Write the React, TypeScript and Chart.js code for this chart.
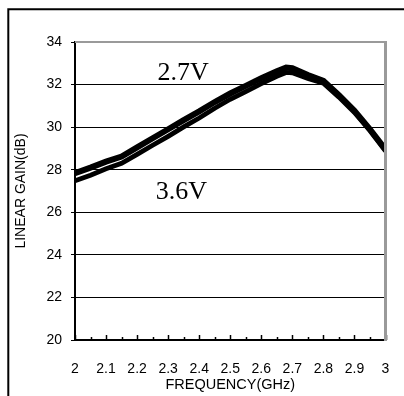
import React, { useEffect, useRef } from "react";
import { Chart, registerables } from "chart.js";

Chart.register(...registerables);

// ---- data ----
const frequencies = [2.0, 2.05, 2.1, 2.15, 2.2, 2.25, 2.3, 2.35, 2.4, 2.45, 2.5, 2.55, 2.6, 2.65, 2.68, 2.7, 2.75, 2.8, 2.85, 2.9, 2.95, 3.0];
const gain27V = [27.84, 28.1, 28.38, 28.62, 29.05, 29.48, 29.9, 30.33, 30.74, 31.18, 31.58, 31.94, 32.3, 32.62, 32.8, 32.77, 32.45, 32.17, 31.5, 30.77, 29.9, 28.95];
const gain36V = [27.48, 27.74, 28.04, 28.3, 28.72, 29.15, 29.57, 30.01, 30.43, 30.89, 31.31, 31.67, 32.04, 32.39, 32.57, 32.55, 32.29, 32.06, 31.41, 30.69, 29.83, 28.88];
const seriesNames = ["2.7V", "3.6V"];
const xMin = 2;
const xMax = 3;
const xStep = 0.1;
const xMinorStep = 0.05;
const yMin = 20;
const yMax = 34;
const yStep = 2;
const xTitle = "FREQUENCY(GHz)";
const yTitle = "LINEAR GAIN(dB)";

const SANS = "'Liberation Sans', Arial, sans-serif";
const SERIF = "'Liberation Serif', 'Times New Roman', serif";

const decorPlugin = {
  id: "decor",
  afterDatasetsDraw(chart: any) {
    const { ctx, chartArea, scales } = chart;
    const xs = scales.x;
    const ys = scales.y;
    ctx.save();
    // minor / major x tick marks pointing up from the axis
    ctx.strokeStyle = "#000";
    ctx.lineWidth = 1.5;
    const n = Math.round((xMax - xMin) / xMinorStep);
    for (let i = 0; i <= n; i++) {
      const v = xMin + i * xMinorStep;
      const px = Math.round(xs.getPixelForValue(v)) + 0.5;
      const len = i % 2 === 0 ? 5 : 3;
      ctx.beginPath();
      ctx.moveTo(px, chartArea.bottom);
      ctx.lineTo(px, chartArea.bottom - len);
      ctx.stroke();
    }
    // grey top and right frame
    ctx.strokeStyle = "#9a9a9a";
    ctx.lineWidth = 2;
    ctx.beginPath();
    ctx.moveTo(chartArea.left, ys.getPixelForValue(yMax));
    ctx.lineTo(xs.getPixelForValue(xMax), ys.getPixelForValue(yMax));
    ctx.stroke();
    ctx.lineWidth = 3;
    ctx.beginPath();
    ctx.moveTo(xs.getPixelForValue(xMax), ys.getPixelForValue(yMax) - 1);
    ctx.lineTo(xs.getPixelForValue(xMax), ys.getPixelForValue(yMin) + 1);
    ctx.stroke();
    // series labels
    ctx.fillStyle = "#000";
    ctx.font = "26px " + SERIF;
    ctx.textAlign = "center";
    ctx.textBaseline = "middle";
    ctx.fillText(seriesNames[0], xs.getPixelForValue(2.348), ys.getPixelForValue(32.54));
    ctx.fillText(seriesNames[1], xs.getPixelForValue(2.343), ys.getPixelForValue(26.94));
    // outer frame (left + top)
    ctx.strokeStyle = "#000";
    ctx.lineWidth = 2;
    ctx.beginPath();
    ctx.moveTo(8.3, 400);
    ctx.lineTo(8.3, 9.3);
    ctx.lineTo(410, 9.3);
    ctx.stroke();
    ctx.restore();
  },
};

export default function App() {
  const ref = useRef<HTMLCanvasElement | null>(null);
  useEffect(() => {
    if (!ref.current) return;
    const chart = new Chart(ref.current, {
      type: "line",
      data: {
        datasets: [
          {
            label: seriesNames[0],
            data: frequencies.map((f, i) => ({ x: f, y: gain27V[i] })),
            borderColor: "#000",
            borderWidth: 6,
            pointRadius: 0,
            tension: 0,
            fill: false,
          },
          {
            label: seriesNames[1],
            data: frequencies.map((f, i) => ({ x: f, y: gain36V[i] })),
            borderColor: "#000",
            borderWidth: 4.8,
            pointRadius: 0,
            tension: 0,
            fill: false,
          },
        ],
      },
      options: {
        animation: false,
        responsive: false,
        maintainAspectRatio: false,
        layout: { padding: { top: 42, right: 18.5, left: 0, bottom: 0 } },
        plugins: { legend: { display: false }, tooltip: { enabled: false } },
        scales: {
          x: {
            type: "linear",
            min: xMin,
            max: xMax,
            afterFit: (s: any) => {
              s.height = 56;
              s.paddingLeft = 0;
              s.paddingRight = 0;
            },
            ticks: {
              stepSize: xStep,
              autoSkip: false,
              maxRotation: 0,
              padding: 21,
              color: "#000",
              font: { family: SANS, size: 14 },
              callback: (v: any) => String(Math.round(Number(v) * 10) / 10),
            },
            grid: { display: true, drawOnChartArea: false, drawTicks: false, color: "transparent" },
            border: { display: true, color: "#000", width: 2 },
            title: {
              display: true,
              text: xTitle,
              color: "#000",
              font: { family: SANS, size: 14.5 },
              padding: { top: 0, bottom: 2.4 },
            },
          },
          y: {
            min: yMin,
            max: yMax,
            afterFit: (s: any) => {
              s.width = 75;
              s.paddingTop = 0;
              s.paddingBottom = 0;
            },
            ticks: {
              stepSize: yStep,
              padding: 9,
              color: "#000",
              font: { family: SANS, size: 14 },
            },
            grid: {
              color: (c: any) => (c.tick && c.tick.value > yMin && c.tick.value < yMax ? "#000" : "transparent"),
              tickColor: "#000",
              lineWidth: 1,
              drawTicks: true,
              tickLength: 4,
            },
            border: { display: true, color: "#000", width: 2 },
            title: {
              display: true,
              text: yTitle,
              color: "#000",
              font: { family: SANS, size: 14 },
              padding: { top: 13, bottom: 0 },
            },
          },
        },
      },
      plugins: [decorPlugin],
    });
    return () => chart.destroy();
  }, []);
  return (
    <div style={{ position: "fixed", left: 0, top: 0, width: 404, height: 396, overflow: "hidden", background: "#fff" }}>
      <canvas ref={ref} width={404} height={396} style={{ display: "block" }} />
    </div>
  );
}
